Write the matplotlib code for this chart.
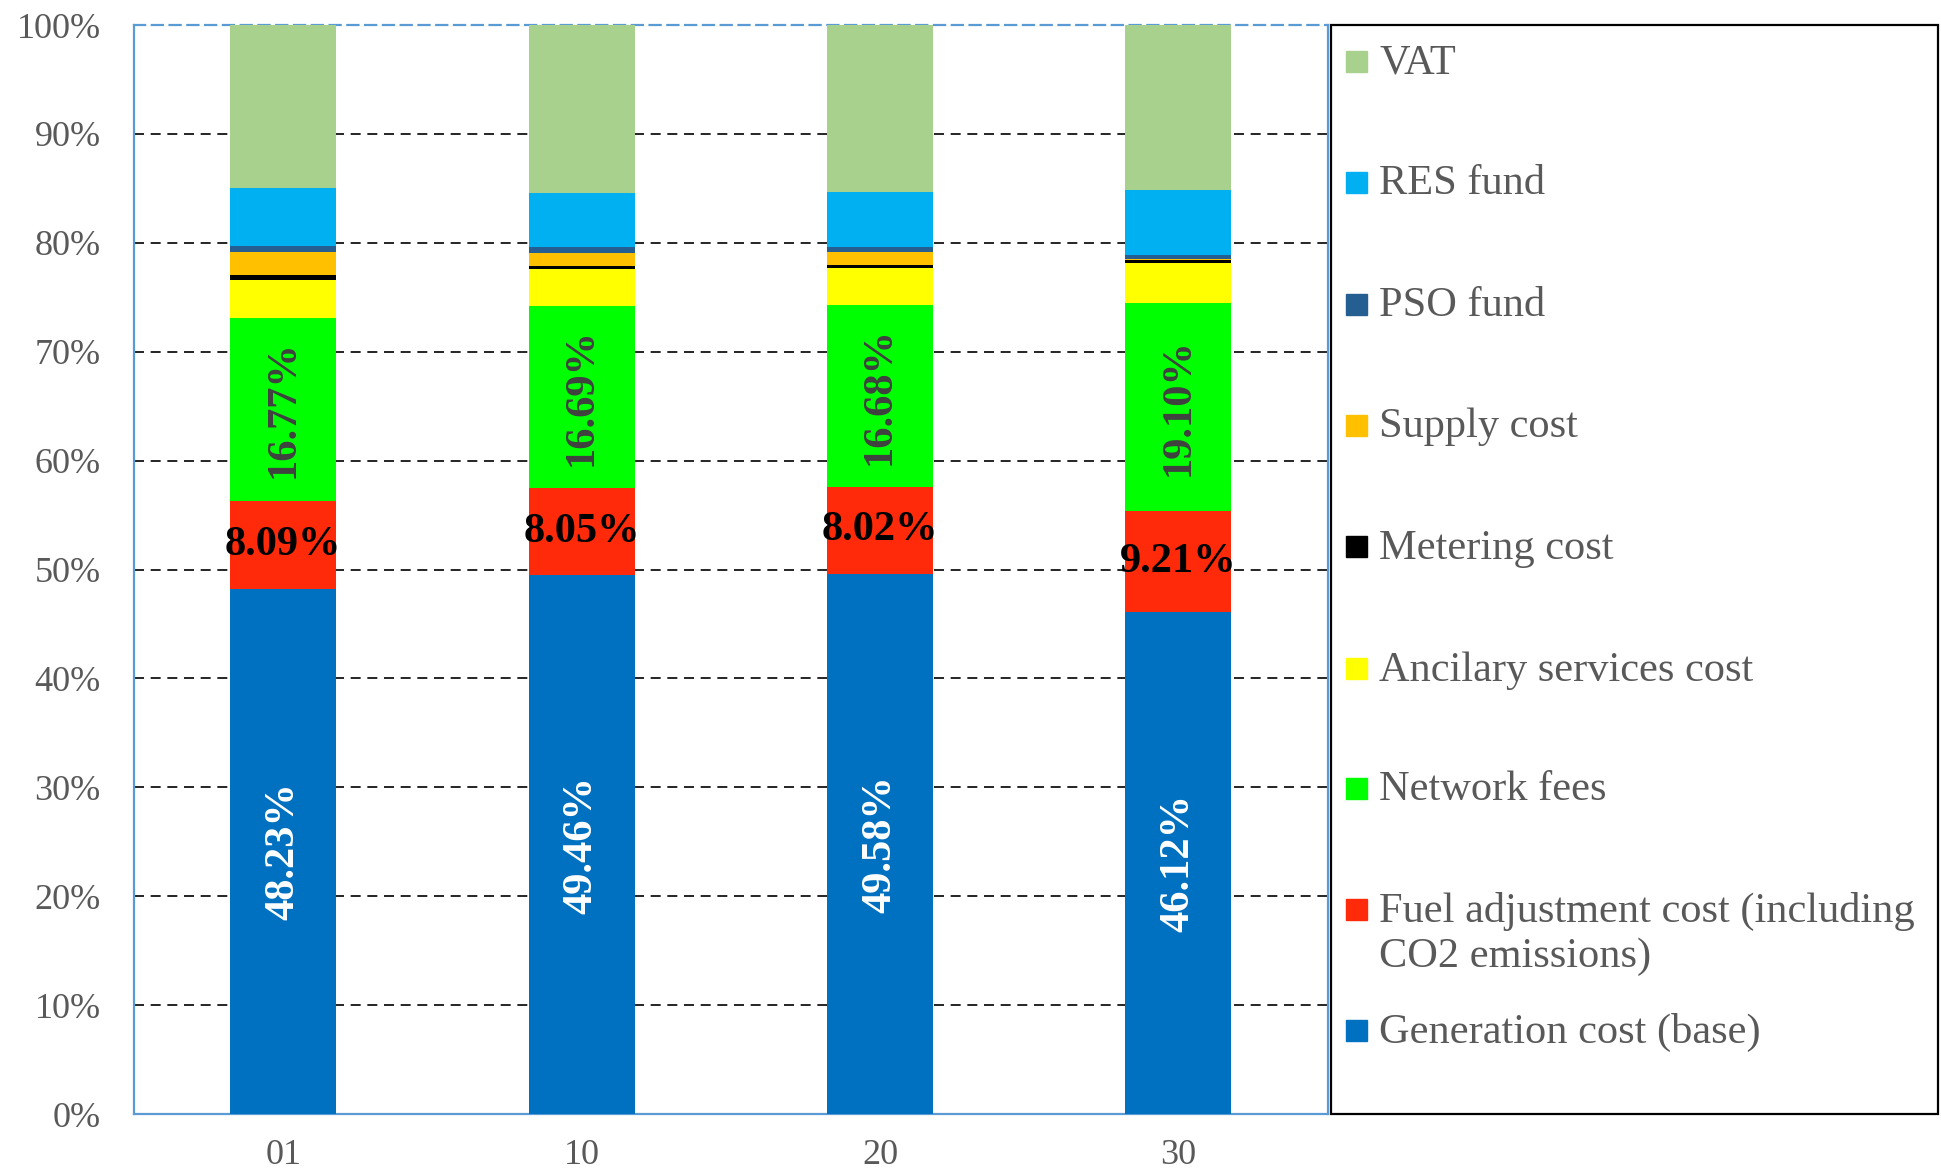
import matplotlib.pyplot as plt
from matplotlib.patches import Rectangle

plt.rcParams['font.family'] = ['Liberation Serif', 'DejaVu Serif']

months = ['01', '10', '20', '30']

# shares in % (bottom to top of each bar)
generation = [48.23, 49.46, 49.58, 46.12]
fuel = [8.09, 8.05, 8.02, 9.21]
network = [16.77, 16.69, 16.68, 19.10]
ancillary = [3.50, 3.40, 3.45, 3.75]
metering = [0.50, 0.30, 0.20, 0.20]
supply = [2.10, 1.20, 1.20, 0.10]
pso = [0.50, 0.50, 0.50, 0.40]
res = [5.30, 5.00, 5.00, 6.00]
vat = [15.01, 15.40, 15.37, 15.12]

names = ['Generation cost (base)',
         'Fuel adjustment cost (including\nCO2 emissions)',
         'Network fees', 'Ancilary services cost', 'Metering cost',
         'Supply cost', 'PSO fund', 'RES fund', 'VAT']
series = [generation, fuel, network, ancillary, metering, supply, pso, res, vat]
colors = ['#0070C0', '#FF2A0A', '#00FF00', '#FFFF00', '#000000',
          '#FFC000', '#255E91', '#00B0F0', '#A9D18E']

fig = plt.figure(figsize=(19.41, 11.69), dpi=100)
ax = fig.add_axes([0.069, 0.047, 0.615, 0.9316])

x = list(range(len(months)))
bottom = [0.0] * len(months)
for vals, col in zip(series, colors):
    ax.bar(x, vals, width=0.355, bottom=bottom, color=col, zorder=3)
    bottom = [b + v for b, v in zip(bottom, vals)]

# labels inside the bars
for i in x:
    ax.text(i, generation[i] / 2, f'{generation[i]:.2f}%', rotation=90,
            ha='center', va='center', color='white', fontsize=30.5,
            fontweight='bold', zorder=4)
    ax.text(i, generation[i] + fuel[i] / 2, f'{fuel[i]:.2f}%',
            ha='center', va='center', color='black', fontsize=30.5,
            fontweight='bold', zorder=4)
    ax.text(i, generation[i] + fuel[i] + network[i] / 2, f'{network[i]:.2f}%',
            rotation=90, ha='center', va='center', color='#404040',
            fontsize=30.5, fontweight='bold', zorder=4)

ax.set_xlim(-0.5, 3.5)
ax.set_ylim(0, 100)
ax.set_yticks(range(0, 101, 10))
ax.set_yticklabels([f'{t}%' for t in range(0, 101, 10)])
ax.set_xticks(x)
ax.set_xticklabels(months)
ax.tick_params(axis='both', length=0, labelsize=26, labelcolor='#595959')
ax.tick_params(axis='y', pad=24)
ax.tick_params(axis='x', pad=18)

for t in range(10, 100, 10):
    ax.axhline(t, color='black', lw=1.2, linestyle=(0, (6, 4)), zorder=1)

for side in ['left', 'bottom', 'right', 'top']:
    ax.spines[side].set_color('#5B9BD5')
    ax.spines[side].set_linewidth(1.6)
ax.spines['top'].set_linestyle((0, (5, 3)))

# legend box on the right
fig_w, fig_h = 1941, 1169
fig.patches.append(Rectangle((1331 / fig_w, (fig_h - 1114) / fig_h),
                             (1938 - 1331) / fig_w, (1114 - 25) / fig_h,
                             transform=fig.transFigure, fill=False,
                             edgecolor='black', linewidth=1.6))
legend_y = [62, 183, 305, 426, 547, 669, 789, 910, 1031]
for name, col, ypx in zip(names[::-1], colors[::-1], legend_y):
    yf = (fig_h - ypx) / fig_h
    fig.patches.append(Rectangle((1346 / fig_w, yf - 10 / fig_h), 21 / fig_w, 21 / fig_h,
                                 transform=fig.transFigure, color=col))
    fig.text(1379 / fig_w, yf + 18 / fig_h, name, ha='left', va='top',
             fontsize=30.5, color='#595959', linespacing=1.22)

plt.savefig('out.png', dpi=100)
